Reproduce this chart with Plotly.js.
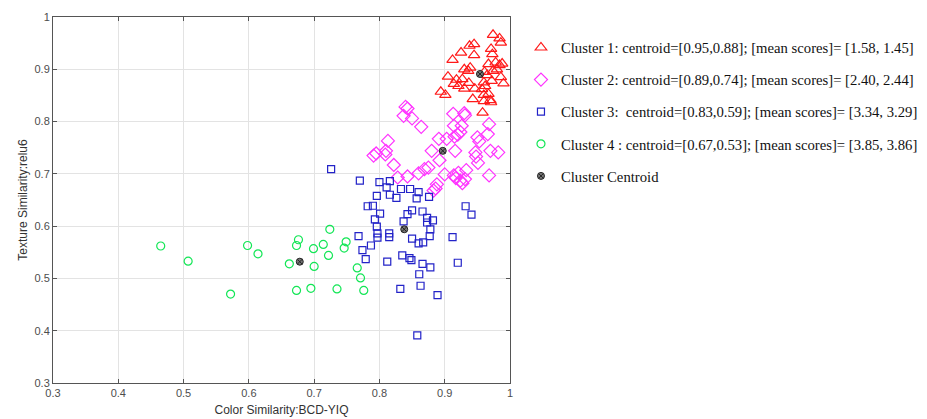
<!DOCTYPE html>
<html><head><meta charset="utf-8">
<script src="https://cdn.plot.ly/plotly-3.0.1.min.js"></script>
<style>body{margin:0;background:#fff}#chart{width:927px;height:419px}</style>
</head><body><div id="chart"></div>
<script>
const c1x=[0.974,0.984,0.986,0.945,0.938,0.971,0.925,0.945,0.973,0.912,0.967,0.978,0.988,0.984,0.939,0.930,0.936,0.980,0.974,0.961,0.965,0.905,0.986,0.918,0.927,0.914,0.937,0.960,0.972,0.990,0.921,0.930,0.946,0.962,0.957,0.894,0.901,0.967,0.960,0.970,0.943,0.960,0.971,0.958];
const c1y=[0.966,0.959,0.951,0.948,0.945,0.939,0.932,0.927,0.929,0.918,0.910,0.913,0.911,0.908,0.903,0.900,0.897,0.900,0.897,0.895,0.889,0.886,0.885,0.880,0.881,0.872,0.874,0.875,0.878,0.873,0.868,0.863,0.863,0.868,0.862,0.857,0.851,0.853,0.851,0.841,0.843,0.839,0.837,0.817];
const c2x=[0.840,0.843,0.837,0.850,0.864,0.913,0.930,0.931,0.968,0.914,0.926,0.924,0.920,0.915,0.966,0.950,0.953,0.903,0.891,0.813,0.810,0.809,0.880,0.916,0.970,0.982,0.947,0.948,0.892,0.951,0.822,0.875,0.869,0.860,0.843,0.828,0.900,0.914,0.917,0.933,0.921,0.931,0.924,0.927,0.968,0.888,0.886,0.883,0.795,0.791];
const c2y=[0.828,0.825,0.811,0.806,0.790,0.815,0.816,0.812,0.795,0.792,0.792,0.780,0.775,0.771,0.776,0.770,0.762,0.767,0.767,0.763,0.744,0.737,0.744,0.744,0.744,0.741,0.741,0.733,0.726,0.721,0.717,0.712,0.709,0.701,0.695,0.693,0.699,0.697,0.692,0.707,0.702,0.690,0.687,0.682,0.697,0.680,0.672,0.668,0.739,0.735];
const c3x=[0.726,0.770,0.800,0.816,0.811,0.833,0.847,0.860,0.796,0.816,0.826,0.857,0.876,0.782,0.790,0.801,0.793,0.796,0.797,0.797,0.815,0.815,0.768,0.787,0.774,0.779,0.812,0.843,0.850,0.866,0.873,0.873,0.882,0.837,0.878,0.877,0.850,0.860,0.867,0.912,0.932,0.941,0.835,0.846,0.849,0.866,0.878,0.920,0.861,0.863,0.832,0.889,0.858];
const c3y=[0.709,0.687,0.684,0.686,0.674,0.671,0.671,0.665,0.658,0.660,0.654,0.653,0.656,0.638,0.639,0.624,0.613,0.599,0.586,0.578,0.586,0.579,0.581,0.563,0.554,0.537,0.532,0.623,0.630,0.628,0.616,0.607,0.611,0.609,0.594,0.581,0.576,0.567,0.569,0.579,0.638,0.622,0.544,0.539,0.535,0.528,0.521,0.530,0.508,0.486,0.480,0.468,0.391];
const c4x=[0.465,0.507,0.572,0.598,0.614,0.662,0.673,0.676,0.673,0.695,0.699,0.700,0.714,0.722,0.724,0.735,0.746,0.749,0.766,0.771,0.776];
const c4y=[0.562,0.533,0.470,0.563,0.547,0.528,0.563,0.574,0.477,0.481,0.557,0.523,0.565,0.544,0.594,0.480,0.558,0.570,0.520,0.501,0.477];
const centX=[0.954,0.897,0.838,0.678];
const centY=[0.891,0.744,0.594,0.532];
const names=["Cluster 1: centroid=[0.95,0.88]; [mean scores]= [1.58, 1.45]","Cluster 2: centroid=[0.89,0.74]; [mean scores]= [2.40, 2.44]","Cluster 3:  centroid=[0.83,0.59]; [mean scores]= [3.34, 3.29]","Cluster 4 : centroid=[0.67,0.53]; [mean scores]= [3.85, 3.86]","Cluster Centroid"];

function tr(x,y,name,sym,col,size,g){return {x:x,y:y,name:name,type:'scatter',mode:'markers',legendgroup:g,
 marker:{symbol:sym,size:size,color:col,line:{color:col,width:1.2}}};}
const data=[
 tr(c1x,c1y,names[0],'triangle-up-open','#ff1a1a',10,'a'),
 tr(c2x,c2y,names[1],'diamond-open','#ff33ff',10,'b'),
 tr(c3x,c3y,names[2],'square-open','#2323c8',7,'c'),
 tr(c4x,c4y,names[3],'circle-open','#12e655',8,'d'),
 {x:centX,y:centY,name:names[4],type:'scatter',mode:'markers',legendgroup:'e',
  marker:{symbol:'circle-x',size:7,color:'#777',line:{color:'#222',width:1}}}
];
const ax={showline:true,linecolor:'#555',linewidth:1,mirror:'ticks',ticks:'inside',ticklen:4,tickcolor:'#555',automargin:false,
 showgrid:true,gridcolor:'#e3e3e3',zeroline:false,dtick:0.1,tickfont:{family:'Liberation Sans, Arial',size:11,color:'#4d4d4d'}};
const layout={width:927,height:419,margin:{l:53,r:417,t:17,b:36,autoexpand:false},paper_bgcolor:'#fff',plot_bgcolor:'#fff',
 showlegend:true,
 xaxis:Object.assign({},ax,{range:[0.3,1],tickvals:[0.3,0.4,0.5,0.6,0.7,0.8,0.9,1],ticktext:['0.3','0.4','0.5','0.6','0.7','0.8','0.9','1'],
  title:{text:'Color Similarity:BCD-YIQ',font:{family:'Liberation Sans, Arial',size:12,color:'#333'},standoff:7}}),
 yaxis:Object.assign({},ax,{range:[0.3,1],tickvals:[0.3,0.4,0.5,0.6,0.7,0.8,0.9,1],ticktext:['0.3','0.4','0.5','0.6','0.7','0.8','0.9','1'],
  title:{text:'Texture Similarity:relu6',font:{family:'Liberation Sans, Arial',size:12,color:'#333'},standoff:4}}),
 legend:{xref:'container',yref:'container',x:0.562,y:0.925,xanchor:'left',yanchor:'top',traceorder:'grouped',tracegroupgap:10,
  font:{family:'Liberation Serif, serif',size:14.7,color:'#111'},bgcolor:'rgba(0,0,0,0)'}
};
Plotly.newPlot('chart',data,layout,{displayModeBar:false,staticPlot:true});
</script></body></html>
